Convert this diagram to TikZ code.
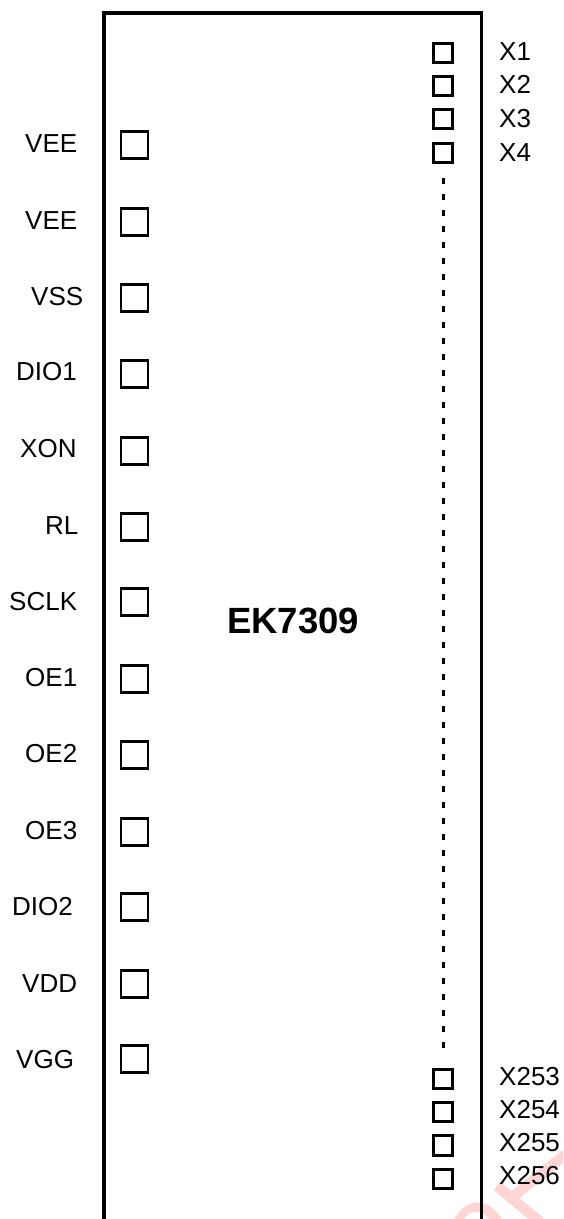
\documentclass[tikz,border=0pt]{standalone}
\usepackage{fontspec}
\setmainfont{Liberation Sans}
\definecolor{wmpink}{RGB}{255,212,212}
\tikzset{
  x=1pt,y=-1pt,
  frameline/.style={line width=3.4pt,line cap=butt,line join=miter},
  bigpad/.style={draw,line width=2.7pt,minimum size=27pt,inner sep=0pt,outer sep=0pt},
  smallpad/.style={draw,line width=2.9pt,minimum size=19.2pt,inner sep=0pt,outer sep=0pt},
  pinlabel/.style={font=\fontsize{26}{28}\selectfont,inner sep=0pt,anchor=base west},
  title/.style={font=\fontsize{36.5}{40}\selectfont\bfseries,inner sep=0pt,anchor=base west},
  dotsline/.style={line width=3pt,dash pattern=on 6pt off 10pt},
  wm/.style={font=\fontsize{72}{72}\selectfont\bfseries,text=wmpink,inner sep=0pt,rotate=45},
  wmstroke/.style={draw=wmpink,line width=10.5pt,line cap=butt}
}
\begin{document}
\begin{tikzpicture}
\useasboundingbox (0,0) rectangle (563,1219);
\begin{scope}
\clip (0,0) rectangle (563,1219);
\node[wm] (watermark) at (479,1229) {O};
\draw[wmstroke] (497,1186) -- (540,1222);
\draw[wmstroke] (510,1199) -- (566,1154);
\end{scope}
\coordinate (tl0) at (104,1219);
\coordinate (tl1) at (104,13);
\coordinate (tr1) at (481.5,13);
\coordinate (tr0) at (481.5,1219);
\draw[frameline] (tl0) -- (tl1) -- (tr1) -- (tr0);
\foreach \n/\y in {a/145,b/222,c/298,d/374,e/451,f/527,g/602,h/679,i/755,j/832,k/907,l/984,m/1059}
  \node[bigpad] (p\n) at (134.5,\y) {};
\node[pinlabel] (la) at (25,152) {VEE};
\node[pinlabel] (lb) at (25,229) {VEE};
\node[pinlabel] (lc) at (31,305) {VSS};
\node[pinlabel] (ld) at (16,380) {DIO1};
\node[pinlabel] (le) at (20,457) {XON};
\node[pinlabel] (lf) at (45,534) {RL};
\node[pinlabel] (lg) at (9,610) {SCLK};
\node[pinlabel] (lh) at (25,686) {OE1};
\node[pinlabel] (li) at (25,762) {OE2};
\node[pinlabel] (lj) at (25,839) {OE3};
\node[pinlabel] (lk) at (12,915) {DIO2};
\node[pinlabel] (ll) at (22,992) {VDD};
\node[pinlabel] (lm) at (16,1068) {VGG};
\foreach \n/\y in {1/53,2/86,3/119,4/153,253/1079,254/1112,255/1145.5,256/1179}
  \node[smallpad] (s\n) at (443,\y) {};
\foreach \n/\y in {1/60,2/93,3/127,4/161,253/1085,254/1118,255/1151,256/1184}
  \node[pinlabel] (x\n) at (499,\y) {X\n};
\node[title] (chip) at (227,633) {EK7309};
\draw[dotsline] (443,178) -- (443,1056);
\end{tikzpicture}
\end{document}
